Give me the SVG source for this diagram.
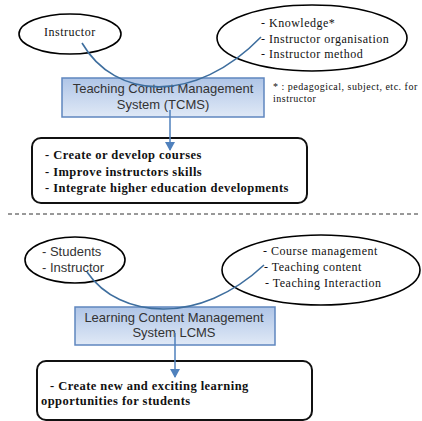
<svg xmlns="http://www.w3.org/2000/svg" width="422" height="421" viewBox="0 0 422 421">
<style>
.ell{fill:#fff;stroke:#000;stroke-width:1.6}
.box{fill:url(#g);stroke:#5f86bf;stroke-width:1.5}
.res{fill:#fff;stroke:#111;stroke-width:2}
.serif{font-family:"Liberation Serif","Times New Roman",serif;font-size:12px;letter-spacing:0.5px;fill:#111}
.bold{font-family:"Liberation Serif","Times New Roman",serif;font-size:12.5px;font-weight:bold;letter-spacing:0.45px;fill:#111}
.sans{font-family:"Liberation Sans",Arial,sans-serif;font-size:13px;fill:#333}
.note{font-family:"Liberation Serif","Times New Roman",serif;font-size:10px;letter-spacing:0.5px;fill:#111}
.curve{fill:none;stroke:#3e6e9e;stroke-width:1.6}
.arr{fill:none;stroke:#4f81bd;stroke-width:1.5}
</style>
<defs>
<linearGradient id="g" x1="0" y1="0" x2="0" y2="1">
<stop offset="0" stop-color="#afc5e7"/>
<stop offset="1" stop-color="#e0e9f6"/>
</linearGradient>
<marker id="ah" markerWidth="10" markerHeight="10" refX="8" refY="5" orient="auto" markerUnits="userSpaceOnUse">
<path d="M0,0 L9,5 L0,10 Z" fill="#4f81bd"/>
</marker>
</defs>

<g id="instructor-top">
<ellipse class="ell" cx="70" cy="34" rx="51" ry="20"/>
<text class="serif" x="44" y="36">Instructor</text>
</g>
<g id="knowledge-top">
<ellipse class="ell" cx="312" cy="38" rx="95" ry="33"/>
<text class="serif" x="261" y="27">- Knowledge*</text>
<text class="serif" x="261" y="43">- Instructor organisation</text>
<text class="serif" x="261" y="58">- Instructor method</text>
</g>
<g id="tcms">
<rect class="box" x="62" y="78" width="202" height="39"/>
<text class="sans" x="163" y="93" text-anchor="middle">Teaching Content Management</text>
<text class="sans" x="163" y="109" text-anchor="middle">System (TCMS)</text>
</g>
<g id="footnote">
<text class="note" x="273" y="90">* : pedagogical, subject, etc. for</text>
<text class="note" x="273" y="102">instructor</text>
</g>
<g id="result-top">
<rect class="res" x="32" y="138" width="275" height="65" rx="9"/>
<text class="bold" x="45" y="159">- Create or develop courses</text>
<text class="bold" x="45" y="176">- Improve instructors skills</text>
<text class="bold" x="45" y="192">- Integrate higher education developments</text>
</g>

<line x1="8" y1="214" x2="418" y2="214" stroke="#333" stroke-width="1" stroke-dasharray="4,3"/>

<g id="students">
<ellipse class="ell" cx="75" cy="260" rx="50" ry="23"/>
<text class="sans" x="42" y="256">- Students</text>
<text class="sans" x="42" y="272">- Instructor</text>
</g>
<g id="course-bottom">
<ellipse class="ell" cx="321" cy="270" rx="99" ry="35"/>
<text class="serif" x="263" y="255">- Course management</text>
<text class="serif" x="264" y="271">- Teaching content</text>
<text class="serif" x="265" y="287">- Teaching Interaction</text>
</g>
<g id="lcms">
<rect class="box" x="75" y="307" width="200" height="38"/>
<text class="sans" x="174" y="322" text-anchor="middle">Learning Content Management</text>
<text class="sans" x="174" y="337" text-anchor="middle">System LCMS</text>
</g>
<g id="result-bottom">
<rect class="res" x="37" y="361" width="275" height="59" rx="9"/>
<text class="bold" x="50" y="390">- Create new and exciting learning</text>
<text class="bold" x="41" y="405">opportunities for students</text>
</g>

<g id="connectors">
<path class="curve" d="M82,43 C115,100 195,105 261,37"/>
<path class="curve" d="M87,272 C120,320 200,325 264,265"/>
<line class="arr" x1="170" y1="110" x2="170" y2="150" marker-end="url(#ah)"/>
<line class="arr" x1="175" y1="333" x2="175" y2="377" marker-end="url(#ah)"/>
</g>
</svg>
